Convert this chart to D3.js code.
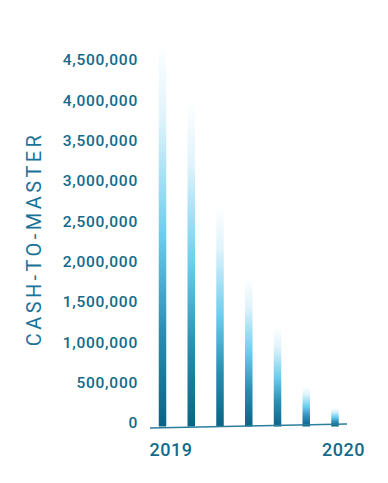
<!DOCTYPE html>
<html><head><meta charset="utf-8">
<script src="https://cdn.jsdelivr.net/npm/d3@7"></script>
<style>html,body{margin:0;padding:0;background:#fff;}svg{display:block;}</style>
</head><body>
<svg id="c" width="388" height="483"></svg>
<script>
const categories = ["P1","P2","P3","P4","P5","P6","P7"];
const values = [4710000, 4000000, 2700000, 1800000, 1180000, 450000, 190000];
const yTicks = [0,500000,1000000,1500000,2000000,2500000,3000000,3500000,4000000,4500000];
const xLabels = ["2019","","","","","","2020"];
const title = "CASH-TO-MASTER";

const svg = d3.select("#c");
const textColor = "#136a8b";
const x = d3.scalePoint().domain(categories).range([162.5, 335]);
const y = d3.scaleLinear().domain([0, 4500000]).range([423, 60]);

const defs = svg.append("defs");
const grad = defs.append("linearGradient").attr("id","bg").attr("x1",0).attr("y1",0).attr("x2",0).attr("y2",1);
grad.append("stop").attr("offset","0").attr("stop-color","#ffffff");
grad.append("stop").attr("offset","0.2").attr("stop-color","#dff3fb");
grad.append("stop").attr("offset","0.5").attr("stop-color","#6ccdee");
grad.append("stop").attr("offset","0.75").attr("stop-color","#2a8fb2");
grad.append("stop").attr("offset","1").attr("stop-color","#0a6384");

// y axis labels
const yAxis = d3.axisLeft(y).tickValues(yTicks).tickSize(0).tickPadding(0).tickFormat(d3.format(","));
const ga = svg.append("g").attr("transform","translate(138,0)").call(yAxis);
ga.select(".domain").remove();
ga.selectAll("text").attr("fill",textColor).attr("font-family","Roboto").attr("font-weight","500")
  .attr("font-size","15.5px").attr("letter-spacing","0.75px");

// bars
const bw = 7.5;
const base = 426.5;
svg.append("g").selectAll("rect").data(values).join("rect")
  .attr("x",(d,i)=>x(categories[i])-bw/2)
  .attr("y",d=>y(d))
  .attr("width",bw)
  .attr("height",d=>base-y(d))
  .attr("fill","url(#bg)");

// baseline
svg.append("line").attr("x1",150).attr("y1",428).attr("x2",347).attr("y2",424)
  .attr("stroke","#2b7d9c").attr("stroke-width",1.6);

// x labels
svg.append("g").selectAll("text").data(xLabels).join("text")
  .attr("x",(d,i)=>x(categories[i])+8.5)
  .attr("y",456)
  .attr("text-anchor","middle")
  .attr("fill",textColor).attr("font-family","Roboto").attr("font-weight","500").attr("font-size","18px")
  .attr("letter-spacing","0.5px")
  .text(d=>d);

// title
svg.append("text").attr("transform","translate(41,239) rotate(-90)")
  .attr("text-anchor","middle").attr("fill","#1a7396")
  .attr("font-family","Roboto").attr("font-size","20px").attr("letter-spacing","3.4px")
  .text(title);
</script>
</body></html>
